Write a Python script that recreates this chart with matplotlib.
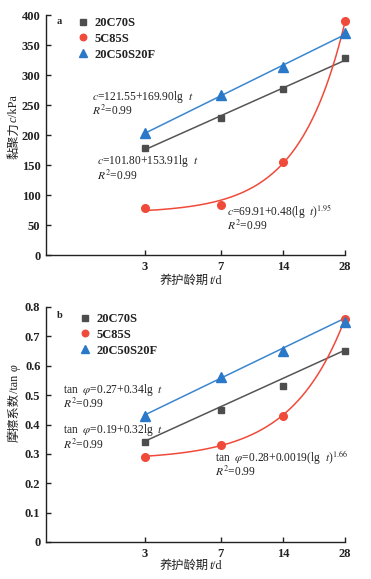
import numpy as np
import matplotlib
matplotlib.use("Agg")
import matplotlib.pyplot as plt
from matplotlib.ticker import FixedLocator, FixedFormatter, NullLocator

plt.rcParams['font.family'] = ['Liberation Serif', 'Noto Sans CJK SC']
plt.rcParams['mathtext.fontset'] = 'stix'

# ---- data ----
ages = [3, 7, 14, 28]
age_labels = ['3', '7', '14', '28']
series_names = ['20C70S', '5C85S', '20C50S20F']

c_20C70S = [178, 229, 276, 328]
c_5C85S = [78, 84, 155, 390]
c_20C50S20F = [203, 267, 313, 370]

tan_20C70S = [0.34, 0.45, 0.53, 0.65]
tan_5C85S = [0.29, 0.33, 0.43, 0.76]
tan_20C50S20F = [0.43, 0.56, 0.65, 0.75]

# fit parameters read from the annotations
c_fit_lin_gray = (101.80, 153.91)
c_fit_lin_blue = (121.55, 169.90)
c_fit_pow_red = (69.91, 0.48, 1.95)
tan_fit_lin_gray = (0.19, 0.32)
tan_fit_lin_blue = (0.27, 0.34)
tan_fit_pow_red = (0.28, 0.0019, 1.66)

gray = '#4d4d4d'
red = '#f04a3a'
blue = '#2a78c8'
txtc = '#222222'

W, H = 371, 579
fig = plt.figure(figsize=(W / 100, H / 100), dpi=100)


def px_axes(l, t, r, b):
    return fig.add_axes([l / W, 1 - b / H, (r - l) / W, (b - t) / H])


def style_axes(ax, yticks, ylabels, ymax):
    ax.set_xscale('log')
    ax.set_xlim(1.0, 28)
    ax.set_ylim(0, ymax)
    ax.xaxis.set_major_locator(FixedLocator(ages))
    ax.xaxis.set_major_formatter(FixedFormatter(age_labels))
    ax.xaxis.set_minor_locator(NullLocator())
    ax.set_yticks(yticks)
    ax.set_yticklabels(ylabels)
    for s in ['top', 'right']:
        ax.spines[s].set_visible(False)
    for s in ['left', 'bottom']:
        ax.spines[s].set_linewidth(1.0)
        ax.spines[s].set_color(txtc)
    ax.tick_params(direction='in', length=3.5, width=1.0, labelsize=9, colors=txtc, pad=4)
    for lab in ax.get_xticklabels() + ax.get_yticklabels():
        lab.set_fontweight('bold')
    ax.patch.set_alpha(0)


def draw_series(ax, ys, fits):
    lg, lb, pr = fits
    tt = np.linspace(3, 28, 300)
    ax.plot(tt, lg[0] + lg[1] * np.log10(tt), color='#555555', lw=1.1, zorder=2, clip_on=False)
    ax.plot(tt, lb[0] + lb[1] * np.log10(tt), color='#3a86d0', lw=1.1, zorder=2, clip_on=False)
    ax.plot(tt, pr[0] + pr[1] * tt ** pr[2], color=red, lw=1.1, zorder=2, clip_on=False)
    ax.plot(ages, ys[0], 's', color=gray, ms=5, ls='none', label=series_names[0], zorder=3, clip_on=False)
    ax.plot(ages, ys[1], 'o', color=red, ms=5.5, ls='none', label=series_names[1], zorder=3, clip_on=False)
    ax.plot(ages, ys[2], '^', color=blue, ms=6.5, ls='none', label=series_names[2], zorder=3, clip_on=False)


def add_legend(ax, x_px, y_px):
    h, l = ax.get_legend_handles_labels()
    leg = ax.legend(h, l, loc='upper left', bbox_to_anchor=(x_px / W, 1 - y_px / H),
                    bbox_transform=fig.transFigure, frameon=False, fontsize=9,
                    handlelength=0.8, handletextpad=0.55, labelspacing=0.3,
                    borderaxespad=0, borderpad=0, markerscale=0.85)
    for t in leg.get_texts():
        t.set_fontweight('bold')
        t.set_color(txtc)


# ---------- panel a ----------
ax1 = px_axes(46, 15, 345, 255)
style_axes(ax1, [0, 50, 100, 150, 200, 250, 300, 350, 400],
           ['0', '50', '100', '150', '200', '250', '300', '350', '400'], 400)
draw_series(ax1, [c_20C70S, c_5C85S, c_20C50S20F], [c_fit_lin_gray, c_fit_lin_blue, c_fit_pow_red])
add_legend(ax1, 78, 17)

# ---------- panel b ----------
ax2 = px_axes(46, 307, 345, 542)
style_axes(ax2, [0, 0.1, 0.2, 0.3, 0.4, 0.5, 0.6, 0.7, 0.8],
           ['0', '0.1', '0.2', '0.3', '0.4', '0.5', '0.6', '0.7', '0.8'], 0.8)
draw_series(ax2, [tan_20C70S, tan_5C85S, tan_20C50S20F], [tan_fit_lin_gray, tan_fit_lin_blue, tan_fit_pow_red])
add_legend(ax2, 80, 313)


def ftext(x, y, s, **kw):
    kw.setdefault('fontsize', 8.3)
    kw.setdefault('color', txtc)
    return fig.text(x / W, 1 - y / H, s, va='center', ha='left', **kw)


# panel labels
ftext(57, 21, 'a', fontweight='bold', fontsize=7.5)
ftext(57, 315, 'b', fontweight='bold', fontsize=7.5)

# annotations panel a
ftext(92, 97, r'$c$=121.55+169.90lg  $t$')
ftext(92, 111, r'$R^2$=0.99')
ftext(97, 161, r'$c$=101.80+153.91lg  $t$')
ftext(97, 176, r'$R^2$=0.99')
ftext(227, 211, r'$c$=69.91+0.48(lg  $t$)$^{1.95}$')
ftext(227, 226, r'$R^2$=0.99')

# annotations panel b
ftext(63, 390, r'tan  $\varphi$=0.27+0.34lg  $t$')
ftext(63, 404, r'$R^2$=0.99')
ftext(63, 430, r'tan  $\varphi$=0.19+0.32lg  $t$')
ftext(63, 445, r'$R^2$=0.99')
ftext(215, 457, r'tan  $\varphi$=0.28+0.0019(lg  $t$)$^{1.66}$')
ftext(215, 472, r'$R^2$=0.99')


# composed axis labels (mixed upright / italic)
renderer = fig.canvas.get_renderer()


def compose(pieces, cx, cy, vertical=False, size=8.8):
    texts = []
    for s, style in pieces:
        t = fig.text(0, 0, s, fontsize=size, color=txtc, style=style,
                     rotation=90 if vertical else 0,
                     ha='left' if not vertical else 'center',
                     va='center' if not vertical else 'bottom')
        texts.append(t)
    ext = [t.get_window_extent(renderer) for t in texts]
    if not vertical:
        total = sum(e.width for e in ext)
        x = cx - total / 2
        for t, e in zip(texts, ext):
            t.set_position((x / W, 1 - cy / H))
            x += e.width
    else:
        total = sum(e.height for e in ext)
        y = (H - cy) - total / 2
        for t, e in zip(texts, ext):
            t.set_position((cx / W, y / H))
            y += e.height


compose([('养护龄期', 'normal'), ('t', 'italic'), ('/d', 'normal')], 191, 281)
compose([('养护龄期', 'normal'), ('t', 'italic'), ('/d', 'normal')], 191, 566)
compose([('黏聚力', 'normal'), ('c', 'italic'), ('/kPa', 'normal')], 14, 127, vertical=True)
compose([('摩擦系数', 'normal'), ('/tan ', 'normal'), ('φ', 'italic')], 15, 403, vertical=True)

fig.savefig('out.png', dpi=100, facecolor='white')
